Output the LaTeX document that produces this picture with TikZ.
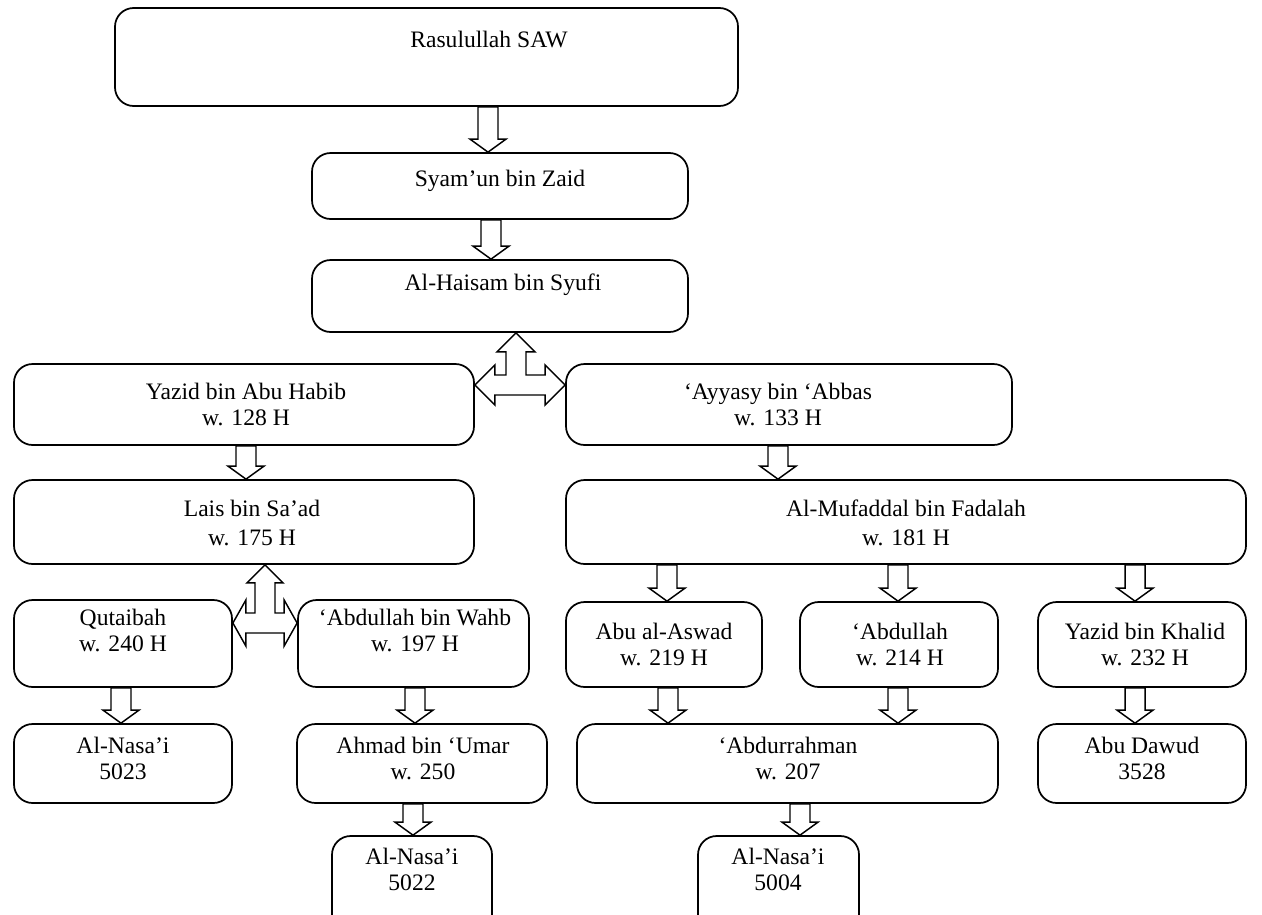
\documentclass[tikz,border=0pt]{standalone}
\usepackage{fontspec}
\setmainfont{Liberation Serif}
\usetikzlibrary{calc,fit}

% block arrow pointing down from the bottom of #1 to the top of #2, centred on x=#3 (px)
\newcommand{\blkdown}[3]{%
  \draw[blockarrow] let \p1=(#1.south), \p2=(#2.north), \p3=(#3,0) in
    (\x3-7.5pt,\y1) -- (\x3+7.5pt,\y1) -- (\x3+7.5pt,\y2+9.75pt) --
    (\x3+13.5pt,\y2+9.75pt) -- (\x3,\y2) -- (\x3-13.5pt,\y2+9.75pt) --
    (\x3-7.5pt,\y2+9.75pt) -- cycle;}

% left-right-up block arrow: #1 left box, #2 right box, #3 upper box,
% #4,#5 centre (px), #6 horizontal head length, #7 horizontal head half height,
% #8 vertical head length, #9 vertical head half width
\newcommand{\lrup}[9]{%
  \draw[blockarrow] let \p1=(#1.east), \p2=(#2.west), \p3=(#3.south), \p4=(#4,#5) in
    (\x1,\y4) -- (\x1+#6,\y4+#7) -- (\x1+#6,\y4+7.5pt) -- (\x4-7.5pt,\y4+7.5pt) --
    (\x4-7.5pt,\y3-#8) -- (\x4-#9,\y3-#8) -- (\x4,\y3) -- (\x4+#9,\y3-#8) --
    (\x4+7.5pt,\y3-#8) -- (\x4+7.5pt,\y4+7.5pt) -- (\x2-#6,\y4+7.5pt) --
    (\x2-#6,\y4+#7) -- (\x2,\y4) -- (\x2-#6,\y4-#7) -- (\x2-#6,\y4-7.5pt) --
    (\x1+#6,\y4-7.5pt) -- (\x1+#6,\y4-#7) -- cycle;}

\tikzset{
  box/.style={draw=black, line width=1.3pt, rounded corners=14pt, fill=white, inner sep=0pt},
  txt/.style={align=center, inner sep=0pt, font=\fontsize{17.7}{19.5}\selectfont},
  blockarrow/.style={draw=black, line width=1.1pt, fill=white, line join=miter},
}

\begin{document}
\begin{tikzpicture}[x=0.75pt, y=-0.75pt]
\useasboundingbox[fill=white] (0,0) rectangle (1262,914);

% boxes
\node[box, fit={(115,8) (738,106)}] (n1) {};
\node[box, fit={(312,153) (688,219)}] (n2) {};
\node[box, fit={(312,260) (688,332)}] (n3) {};
\node[box, fit={(14,364) (474,445)}] (n4) {};
\node[box, fit={(566,364) (1012,445)}] (n5) {};
\node[box, fit={(14,480) (474,564)}] (n6) {};
\node[box, fit={(566,480) (1246,564)}] (n7) {};
\node[box, fit={(14,600) (232,687)}] (n8) {};
\node[box, fit={(298,600) (529,687)}] (n9) {};
\node[box, fit={(566,602) (762,687)}] (n10) {};
\node[box, fit={(800,602) (998,687)}] (n11) {};
\node[box, fit={(1038,602) (1246,687)}] (n12) {};
\node[box, fit={(14,724) (232,803)}] (n13) {};
\node[box, fit={(297,724) (547,803)}] (n14) {};
\node[box, fit={(577,724) (998,803)}] (n15) {};
\node[box, fit={(1038,724) (1246,803)}] (n16) {};
\node[box, fit={(332,836) (492,935)}] (n17) {};
\node[box, fit={(698,836) (859,935)}] (n18) {};

% names
\node[txt] (t1) at (489,39.5) {Rasulullah SAW};
\node[txt] (t2) at (500,181) {Syam’un bin Zaid};
\node[txt] (t3) at (503,284.5) {Al-Haisam bin Syufi};
\node[txt] (t4) at (246,404) {Yazid bin Abu Habib\\w. 128 H};
\node[txt] (t5) at (778,404) {‘Ayyasy bin ‘Abbas\\w. 133 H};
\node[txt] (t6) at (252,523) {Lais bin Sa’ad\\[2.25pt]w. 175 H};
\node[txt] (t7) at (906,523) {Al-Mufaddal bin Fadalah\\[2.25pt]w. 181 H};
\node[txt] (t8) at (123,630) {Qutaibah\\w. 240 H};
\node[txt] (t9) at (415,630) {‘Abdullah bin Wahb\\w. 197 H};
\node[txt] (t10) at (664,644) {Abu al-Aswad\\w. 219 H};
\node[txt] (t11) at (900,644) {‘Abdullah\\w. 214 H};
\node[txt] (t12) at (1145,644) {Yazid bin Khalid\\w. 232 H};
\node[txt] (t13) at (123,758) {Al-Nasa’i\\5023};
\node[txt] (t14) at (423,758) {Ahmad bin ‘Umar\\w. 250};
\node[txt] (t15) at (788,758) {‘Abdurrahman\\w. 207};
\node[txt] (t16) at (1142,758) {Abu Dawud\\3528};
\node[txt] (t17) at (412,869) {Al-Nasa’i\\5022};
\node[txt] (t18) at (778,869) {Al-Nasa’i\\5004};

% transmission arrows
\blkdown{n1}{n2}{488}
\blkdown{n2}{n3}{491}
\blkdown{n4}{n6}{246}
\blkdown{n5}{n7}{778}
\blkdown{n7}{n10}{667}
\blkdown{n7}{n11}{898}
\blkdown{n7}{n12}{1135}
\blkdown{n8}{n13}{121}
\blkdown{n9}{n14}{415}
\blkdown{n10}{n15}{668}
\blkdown{n11}{n15}{898}
\blkdown{n12}{n16}{1135}
\blkdown{n14}{n17}{413}
\blkdown{n15}{n18}{800}

% branching arrows
\lrup{n4}{n5}{n3}{516}{385}{15pt}{15pt}{14.25pt}{14.25pt}
\lrup{n8}{n9}{n6}{265}{623}{9.75pt}{17.25pt}{13.5pt}{13.5pt}
\end{tikzpicture}
\end{document}
